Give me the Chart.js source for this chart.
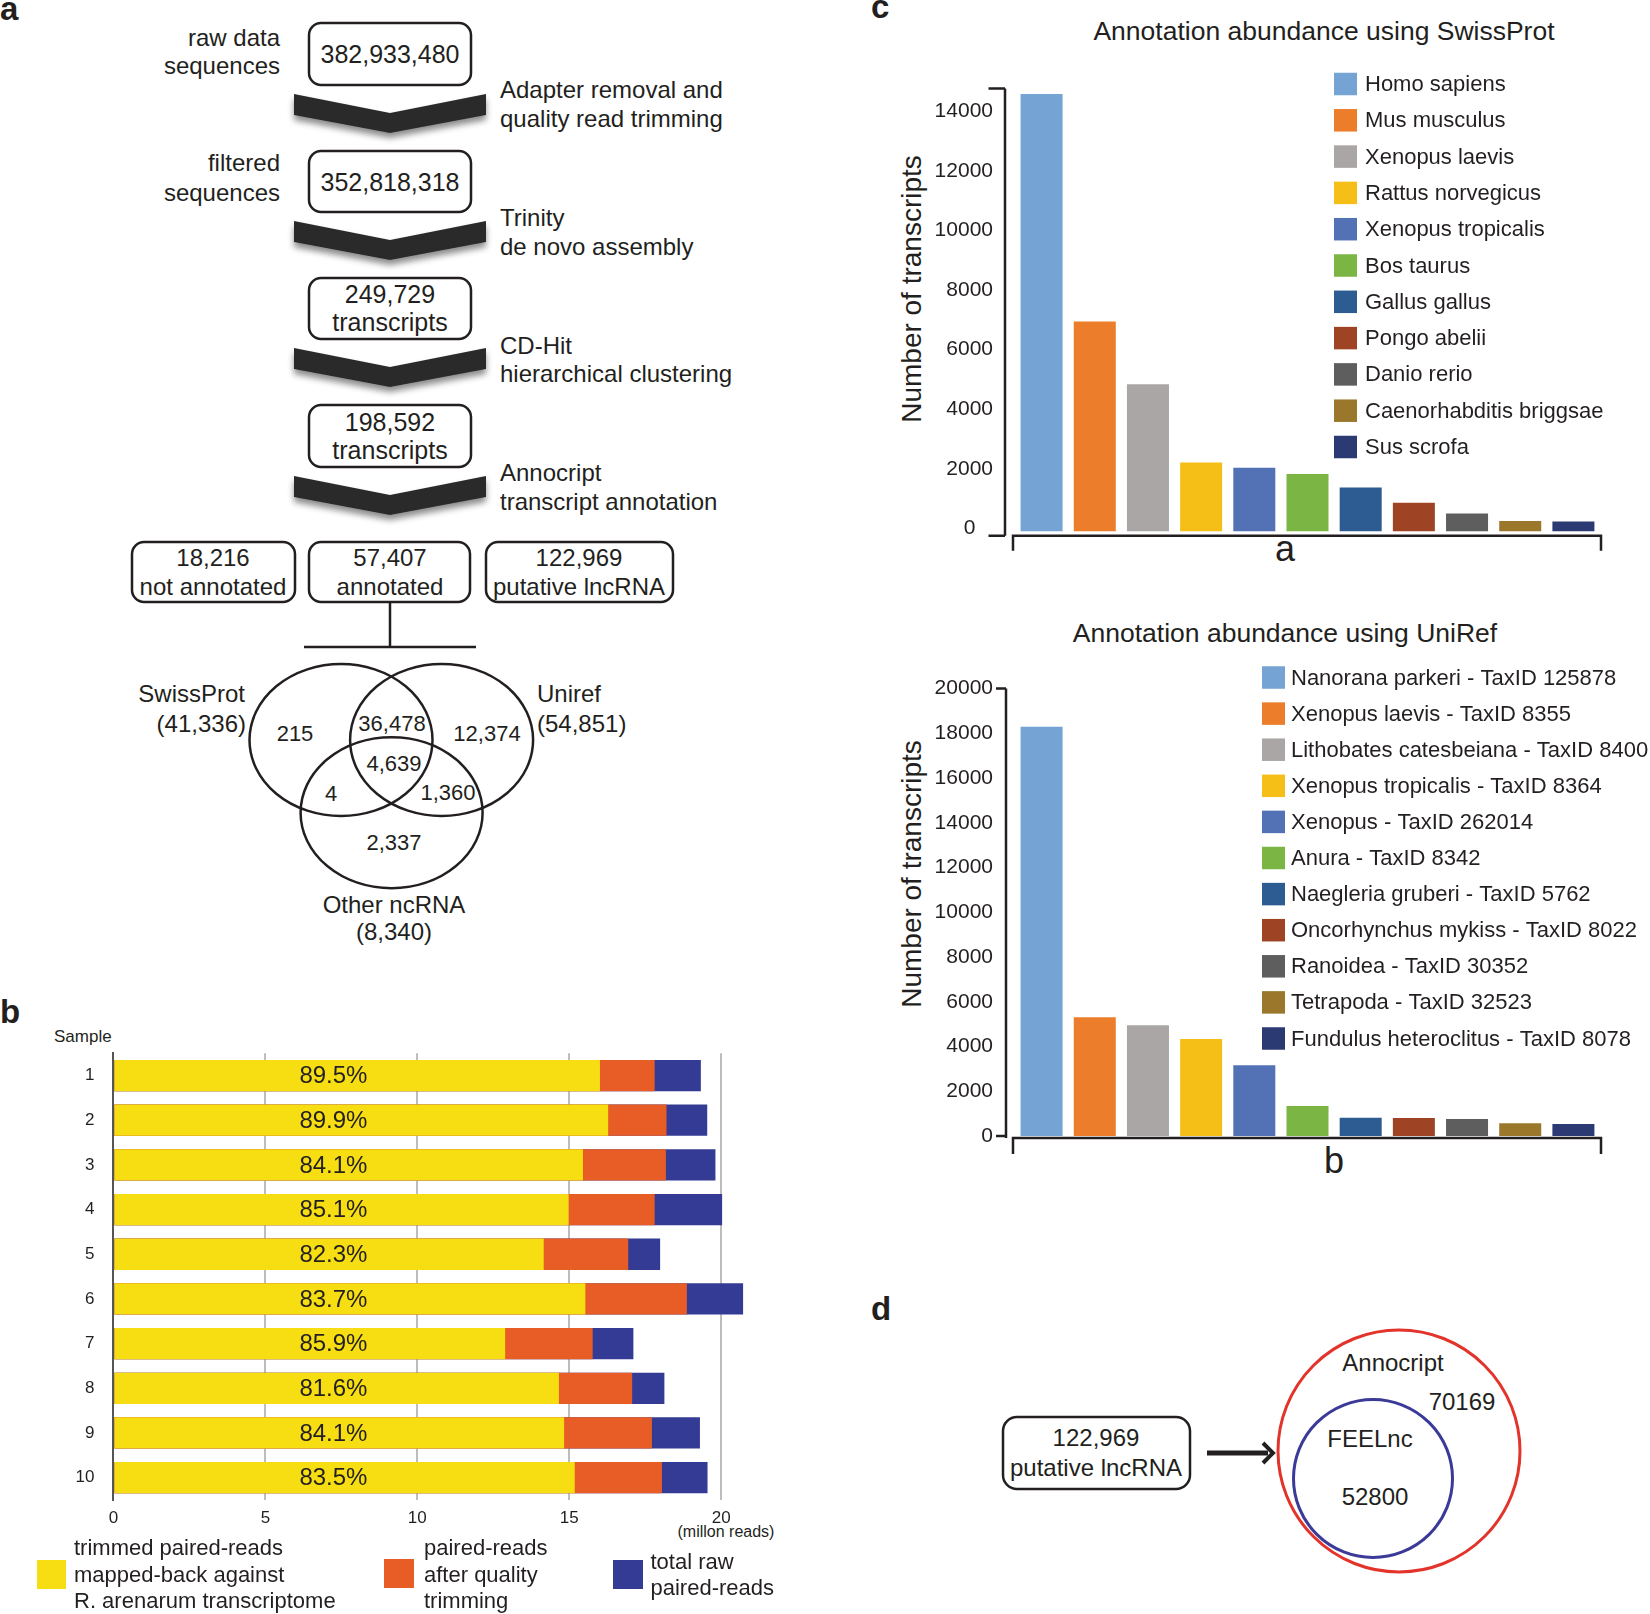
<!DOCTYPE html>
<html>
<head>
<meta charset="utf-8">
<title>Transcriptome assembly and annotation</title>
<script src="https://cdn.jsdelivr.net/npm/chart.js@4.4.1/dist/chart.umd.min.js"></script>
<style>
    html, body { margin: 0; padding: 0; background: #fff; }
    body {
        width: 1650px; height: 1614px; position: relative; overflow: hidden;
        font-family: "Liberation Sans", Arial, Helvetica, sans-serif; color: #231f20;
    }
    svg, canvas { position: absolute; }
</style>
</head>
<body>

<!-- Flowchart, Venn diagrams and static labels -->
<svg id="diagram" width="1650" height="1614" viewBox="0 0 1650 1614" style="left:0;top:0"
     font-family="Liberation Sans, Arial, Helvetica, sans-serif" fill="#231f20">
    <defs>
        <filter id="shadow" x="-10%" y="-40%" width="120%" height="200%">
            <feDropShadow dx="0" dy="5" stdDeviation="3" flood-color="#000" flood-opacity="0.45"/>
        </filter>
    </defs>

    <!-- panel letters -->
    <g font-weight="bold" font-size="33">
        <text x="0" y="20">a</text>
        <text x="0" y="1023">b</text>
        <text x="871" y="18">c</text>
        <text x="871" y="1320">d</text>
    </g>

    <!-- a: pipeline boxes -->
    <g fill="none" stroke="#231f20" stroke-width="2.5">
        <rect x="309" y="23" width="162" height="62" rx="12"/>
        <rect x="309" y="151" width="162" height="61" rx="12"/>
        <rect x="309" y="278" width="162" height="61" rx="12"/>
        <rect x="309" y="405" width="162" height="62" rx="12"/>
        <rect x="132" y="542" width="163" height="60" rx="12"/>
        <rect x="309" y="542" width="161" height="60" rx="12"/>
        <rect x="486" y="542" width="187" height="60" rx="12"/>
        <line x1="390" y1="602" x2="390" y2="647"/>
        <line x1="304" y1="647" x2="476" y2="647"/>
    </g>

    <!-- a: chevrons -->
    <g fill="#2b2b2b" filter="url(#shadow)">
        <polygon points="294,94 390,113 486,94 486,115 390,133 294,115"/>
        <polygon points="294,221 390,240 486,221 486,242 390,260 294,242"/>
        <polygon points="294,348 390,367 486,348 486,369 390,387 294,369"/>
        <polygon points="294,476 390,495 486,476 486,497 390,515 294,497"/>
    </g>

    <g font-size="25" text-anchor="middle" dominant-baseline="central">
        <text x="390" y="54">382,933,480</text>
        <text x="390" y="182">352,818,318</text>
        <text x="390" y="294">249,729</text>
        <text x="390" y="322">transcripts</text>
        <text x="390" y="422">198,592</text>
        <text x="390" y="450">transcripts</text>
    </g>
    <g font-size="24" text-anchor="middle" dominant-baseline="central">
        <text x="213" y="557">18,216</text>
        <text x="213" y="586">not annotated</text>
        <text x="390" y="557">57,407</text>
        <text x="390" y="586">annotated</text>
        <text x="579" y="557">122,969</text>
        <text x="579" y="586">putative lncRNA</text>
    </g>
    <g font-size="24" text-anchor="end" dominant-baseline="central">
        <text x="280" y="37">raw data</text>
        <text x="280" y="65">sequences</text>
        <text x="280" y="162">filtered</text>
        <text x="280" y="192">sequences</text>
    </g>
    <g font-size="24" dominant-baseline="central">
        <text x="500" y="89">Adapter removal and</text>
        <text x="500" y="118">quality read trimming</text>
        <text x="500" y="217">Trinity</text>
        <text x="500" y="246">de novo assembly</text>
        <text x="500" y="345">CD-Hit</text>
        <text x="500" y="373">hierarchical clustering</text>
        <text x="500" y="472">Annocript</text>
        <text x="500" y="501">transcript annotation</text>
    </g>

    <!-- a: Venn of annotation sources -->
    <g fill="none" stroke="#231f20" stroke-width="2.5">
        <ellipse cx="341" cy="740" rx="91.5" ry="76"/>
        <ellipse cx="441.6" cy="740" rx="91.5" ry="76"/>
        <ellipse cx="391.6" cy="812.7" rx="91" ry="75.5"/>
    </g>
    <g font-size="22" text-anchor="middle" dominant-baseline="central">
        <text x="295" y="733">215</text>
        <text x="392" y="723">36,478</text>
        <text x="487" y="733">12,374</text>
        <text x="394" y="763">4,639</text>
        <text x="331" y="793">4</text>
        <text x="448" y="792">1,360</text>
        <text x="394" y="842">2,337</text>
    </g>
    <g font-size="24" dominant-baseline="central">
        <text x="245" y="693" text-anchor="end">SwissProt</text>
        <text x="246" y="723" text-anchor="end">(41,336)</text>
        <text x="537" y="693">Uniref</text>
        <text x="537" y="723">(54,851)</text>
        <text x="394" y="904" text-anchor="middle">Other ncRNA</text>
        <text x="394" y="931" text-anchor="middle">(8,340)</text>
    </g>

    <!-- b: extra axis texts -->
    <text x="54" y="1036" font-size="17" dominant-baseline="central">Sample</text>
    <text x="726" y="1531" font-size="16" text-anchor="middle" dominant-baseline="central">(millon reads)</text>

    <!-- c: titles -->
    <g font-size="26.5" text-anchor="middle" dominant-baseline="central">
        <text x="1324" y="31">Annotation abundance using SwissProt</text>
        <text x="1285" y="633">Annotation abundance using UniRef</text>
    </g>
    <g font-size="28" text-anchor="middle" dominant-baseline="central">
        <text transform="translate(911,289) rotate(-90)">Number of transcripts</text>
        <text transform="translate(911,874) rotate(-90)">Number of transcripts</text>
    </g>
    <g font-size="36" text-anchor="middle">
        <text x="1285" y="561">a</text>
        <text x="1334" y="1173">b</text>
    </g>

    <!-- d: lncRNA filtering -->
    <rect x="1003" y="1417" width="187" height="72" rx="14" fill="none" stroke="#231f20" stroke-width="2.5"/>
    <g font-size="24" text-anchor="middle" dominant-baseline="central">
        <text x="1096" y="1437">122,969</text>
        <text x="1096" y="1467">putative lncRNA</text>
    </g>
    <line x1="1207" y1="1453" x2="1268" y2="1453" stroke="#231f20" stroke-width="5"/>
    <polyline points="1263,1443 1273,1453 1263,1463" fill="none" stroke="#231f20" stroke-width="4"/>
    <ellipse cx="1399" cy="1451" rx="121" ry="121" fill="none" stroke="#E2342B" stroke-width="3"/>
    <ellipse cx="1373" cy="1478.5" rx="79.5" ry="79" fill="none" stroke="#3B3A98" stroke-width="3"/>
    <g font-size="24" text-anchor="middle" dominant-baseline="central">
        <text x="1393" y="1362">Annocript</text>
        <text x="1462" y="1401">70169</text>
        <text x="1370" y="1438">FEELnc</text>
        <text x="1375" y="1496">52800</text>
    </g>
</svg>

<canvas id="reads-chart" width="800" height="590" style="left:0;top:1024px"></canvas>
<canvas id="swissprot-chart" width="820" height="570" style="left:830px;top:0"></canvas>
<canvas id="uniref-chart" width="820" height="620" style="left:830px;top:570px"></canvas>

<script>
// Panel b: reads per sample (million reads)
const samples = ['1', '2', '3', '4', '5', '6', '7', '8', '9', '10'];
const mappedReads = [16.01, 16.28, 15.45, 14.98, 14.16, 15.53, 12.89, 14.66, 14.83, 15.18];
const trimmedReads = [17.81, 18.20, 18.18, 17.81, 16.94, 18.87, 15.77, 17.07, 17.72, 18.05];
const rawReads = [19.33, 19.54, 19.81, 20.03, 17.99, 20.72, 17.11, 18.13, 19.30, 19.55];
const mappedPct = [89.5, 89.9, 84.1, 85.1, 82.3, 83.7, 85.9, 81.6, 84.1, 83.5];
const readTicks = [0, 5, 10, 15, 20];
const readLegend = [
    ['trimmed paired-reads', 'mapped-back against', 'R. arenarum transcriptome'],
    ['paired-reads', 'after quality', 'trimming'],
    ['total raw', 'paired-reads']
];
const readColors = ['#F6DE12', '#E85D25', '#343B94'];

// Panel c: annotation abundance
const swissSpecies = [
    'Homo sapiens', 'Mus musculus', 'Xenopus laevis', 'Rattus norvegicus',
    'Xenopus tropicalis', 'Bos taurus', 'Gallus gallus', 'Pongo abelii',
    'Danio rerio', 'Caenorhabditis briggsae', 'Sus scrofa'
];
const swissCounts = [14680, 7046, 4937, 2313, 2133, 1929, 1474, 959, 599, 348, 336];
const swissTicks = [0, 2000, 4000, 6000, 8000, 10000, 12000, 14000];

const unirefTaxa = [
    'Nanorana parkeri - TaxID 125878', 'Xenopus laevis - TaxID 8355',
    'Lithobates catesbeiana - TaxID 8400', 'Xenopus tropicalis - TaxID 8364',
    'Xenopus - TaxID 262014', 'Anura - TaxID 8342', 'Naegleria gruberi - TaxID 5762',
    'Oncorhynchus mykiss - TaxID 8022', 'Ranoidea - TaxID 30352',
    'Tetrapoda - TaxID 32523', 'Fundulus heteroclitus - TaxID 8078'
];
const unirefCounts = [18300, 5310, 4956, 4336, 3168, 1345, 814, 800, 761, 566, 531];
const unirefTicks = [0, 2000, 4000, 6000, 8000, 10000, 12000, 14000, 16000, 18000, 20000];

const speciesColors = [
    '#74A3D4', '#EC7D2A', '#A9A6A5', '#F6BF18', '#5372B6', '#7BB543',
    '#2C5C92', '#9E4324', '#5E5E5E', '#9A772B', '#2B3A73'
];

const INK = '#231f20';
const FONT = '"Liberation Sans", Arial, Helvetica, sans-serif';
Chart.defaults.font.family = FONT;
Chart.defaults.color = INK;

// Percentages written inside the yellow bars
const pctLabels = {
    id: 'pctLabels',
    afterDatasetsDraw(chart, args, opts) {
        const { ctx, scales: { x, y } } = chart;
        ctx.save();
        ctx.font = `24px ${FONT}`;
        ctx.fillStyle = INK;
        ctx.textAlign = 'center';
        ctx.textBaseline = 'middle';
        mappedPct.forEach((p, i) => {
            ctx.fillText(`${p.toFixed(1)}%`, x.getPixelForValue(opts.at), y.getPixelForValue(i) + 1);
        });
        ctx.restore();
    }
};

// Legend under panel b
const readsLegend = {
    id: 'readsLegend',
    afterDraw(chart, args, opts) {
        const { ctx } = chart;
        ctx.save();
        ctx.font = `22px ${FONT}`;
        ctx.textBaseline = 'middle';
        opts.items.forEach((item, i) => {
            ctx.fillStyle = chart.data.datasets[i].backgroundColor;
            ctx.fillRect(item.box[0], item.box[1], item.box[2], item.box[3]);
            ctx.fillStyle = INK;
            readLegend[i].forEach((line, j) => {
                ctx.fillText(line, item.textX, item.lineY[j]);
            });
        });
        ctx.restore();
    }
};

// Detached y axis, bracket under the bars and the species legend
const speciesDecor = {
    id: 'speciesDecor',
    afterDraw(chart, args, opts) {
        const { ctx, chartArea: area } = chart;
        const axisX = area.left - opts.axisGap;
        ctx.save();
        ctx.strokeStyle = INK;
        ctx.lineWidth = 2.5;
        ctx.beginPath();
        ctx.moveTo(axisX, area.top);
        ctx.lineTo(axisX, area.bottom + opts.bracketGap);
        ctx.moveTo(axisX - opts.tickLen, area.top);
        ctx.lineTo(axisX, area.top);
        ctx.moveTo(axisX - opts.tickLen, area.bottom + opts.bottomTickGap);
        ctx.lineTo(axisX, area.bottom + opts.bottomTickGap);
        // bracket
        const by = area.bottom + opts.bracketGap;
        ctx.moveTo(area.left - 2, by + opts.bracketDrop);
        ctx.lineTo(area.left - 2, by);
        ctx.lineTo(area.right + 1, by);
        ctx.lineTo(area.right + 1, by + opts.bracketDrop);
        ctx.stroke();

        // legend
        const lg = opts.legend;
        ctx.font = `22px ${FONT}`;
        ctx.textBaseline = 'middle';
        chart.data.labels.forEach((label, i) => {
            const cy = lg.y + i * lg.step;
            ctx.fillStyle = chart.data.datasets[0].backgroundColor[i];
            ctx.fillRect(lg.x, cy - 11.25, 23, 22.5);
            ctx.fillStyle = INK;
            ctx.fillText(label, lg.textX, cy + 1);
        });
        ctx.restore();
    }
};

// Panel b chart
new Chart(document.getElementById('reads-chart'), {
    type: 'bar',
    data: {
        labels: samples,
        datasets: [
            { label: 'mapped', data: mappedReads, backgroundColor: readColors[0] },
            { label: 'trimmed', data: trimmedReads, backgroundColor: readColors[1] },
            { label: 'raw', data: rawReads, backgroundColor: readColors[2] }
        ]
    },
    options: {
        indexAxis: 'y',
        responsive: false,
        animation: false,
        datasets: { bar: { barPercentage: 0.7, categoryPercentage: 1 } },
        layout: { padding: { left: 53.4, right: 48.4, top: 0, bottom: 84 } },
        plugins: {
            legend: { display: false },
            tooltip: { enabled: false },
            pctLabels: { at: 7.24 },
            readsLegend: {
                items: [
                    { box: [37, 536, 29, 29], textX: 74, lineY: [525, 552, 578] },
                    { box: [384, 535, 30, 29], textX: 424, lineY: [525, 552, 578] },
                    { box: [613, 536, 30, 29], textX: 650.5, lineY: [539, 565] }
                ]
            }
        },
        scales: {
            x: {
                min: 0,
                max: 21,
                stacked: false,
                ticks: { padding: 8, font: { size: 17 } },
                afterBuildTicks: (s) => { s.ticks = readTicks.map(v => ({ value: v })); },
                grid: {
                    color: (c) => (c.tick && c.tick.value === 0 ? 'rgba(0,0,0,0)' : '#BDBDBD'),
                    lineWidth: 2,
                    drawTicks: false
                },
                border: { display: false },
                afterFit: (s) => { s.height = 30; }
            },
            y: {
                stacked: true,
                ticks: { padding: 19, font: { size: 17 } },
                grid: { display: false, drawTicks: false },
                border: { display: true, color: '#555', width: 2 },
                afterFit: (s) => { s.width = 60; }
            }
        }
    },
    plugins: [pctLabels, readsLegend]
});

// Panel c charts
function speciesChart(id, labels, counts, ticks, cfg) {
    return new Chart(document.getElementById(id), {
        type: 'bar',
        data: {
            labels: labels,
            datasets: [{
                data: counts,
                backgroundColor: speciesColors,
                barPercentage: 0.79,
                categoryPercentage: 1
            }]
        },
        options: {
            responsive: false,
            animation: false,
            layout: { padding: cfg.padding },
            plugins: {
                legend: { display: false },
                tooltip: { enabled: false },
                speciesDecor: cfg.decor
            },
            scales: {
                x: {
                    ticks: { display: false },
                    grid: { display: false },
                    border: { display: false },
                    afterFit: (s) => { s.height = 10; }
                },
                y: {
                    min: 0,
                    max: cfg.max,
                    ticks: {
                        padding: 22,
                        autoSkip: false,
                        labelOffset: cfg.labelOffset,
                        font: { size: 21 },
                        // the zero label sits a little further from the axis tick
                        callback: (v) => (v === 0 ? cfg.zeroLabel : String(v))
                    },
                    afterBuildTicks: (s) => { s.ticks = ticks.map(v => ({ value: v })); },
                    grid: { display: false, drawTicks: false },
                    border: { display: false },
                    afterFit: (s) => { s.width = 120; }
                }
            }
        },
        plugins: [speciesDecor]
    });
}

speciesChart('swissprot-chart', swissSpecies, swissCounts, swissTicks, {
    max: 14864,
    labelOffset: -3,
    zeroLabel: '0   ',
    padding: { left: 65, right: 50, top: 88.6, bottom: 28.6 },
    decor: {
        axisGap: 10, tickLen: 16.5, bracketGap: 4.3, bottomTickGap: 4.3, bracketDrop: 15,
        legend: { x: 504, textX: 535, y: 84, step: 36.3 }
    }
});

speciesChart('uniref-chart', unirefTaxa, unirefCounts, unirefTicks, {
    max: 20000,
    labelOffset: 0,
    zeroLabel: '0',
    padding: { left: 65, right: 50, top: 118.6, bottom: 44 },
    decor: {
        axisGap: 9, tickLen: 10, bracketGap: 2, bottomTickGap: 0, bracketDrop: 16,
        legend: { x: 432, textX: 461, y: 107.5, step: 36.1 }
    }
});
</script>
</body>
</html>
